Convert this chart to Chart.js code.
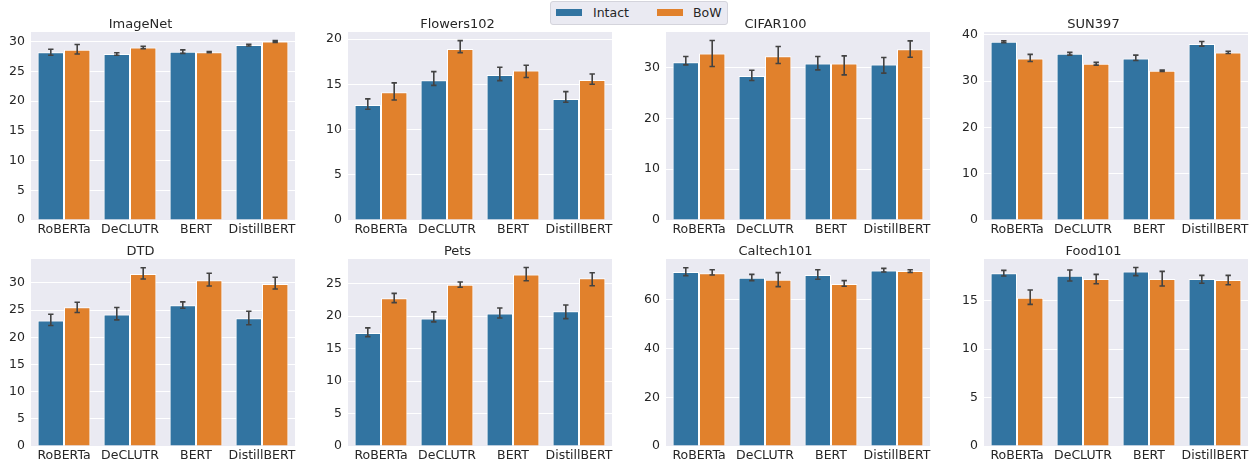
<!DOCTYPE html>
<html><head><meta charset="utf-8">
<script src="https://cdn.jsdelivr.net/npm/chart.js@4.4.0/dist/chart.umd.min.js"></script>
<style>
body{margin:0;background:#fff;width:1255px;height:463px;overflow:hidden;position:relative;font-family:"DejaVu Sans",sans-serif;}
canvas.pc{position:absolute;}
#legend{position:absolute;left:550px;top:1px;width:176px;height:22px;border:1px solid #d4d4dc;border-radius:3px;background:#eaeaf2;}
#legend .sw{position:absolute;top:7px;width:26px;height:7px;}
#legend .tx{position:absolute;top:0;line-height:22px;font-size:12.5px;color:#262626;white-space:nowrap;}
</style></head><body>
<div id="legend">
  <span class="sw" style="left:5px;background:#3274a1"></span><span class="tx" style="left:42px">Intact</span>
  <span class="sw" style="left:106px;background:#e1812c"></span><span class="tx" style="left:142px">BoW</span>
</div>
<script>
// ---------- data ----------
const categories = ["RoBERTa", "DeCLUTR", "BERT", "DistillBERT"];
const seriesNames = ["Intact", "BoW"];

const imagenetIntact = [28.2, 27.9, 28.3, 29.4];
const imagenetIntactCI = [[27.7, 28.7], [27.7, 28.1], [28.0, 28.6], [29.25, 29.55]];
const imagenetBow = [28.6, 29.0, 28.2, 30.0];
const imagenetBowCI = [[27.9, 29.5], [28.8, 29.2], [28.1, 28.3], [29.85, 30.15]];
const imagenetTicks = [0, 5, 10, 15, 20, 25, 30];

const flowersIntact = [12.73, 15.46, 16.05, 13.4];
const flowersIntactCI = [[12.25, 13.4], [14.9, 16.42], [15.42, 16.9], [13.03, 14.2]];
const flowersBow = [14.13, 18.93, 16.53, 15.5];
const flowersBowCI = [[13.28, 15.17], [18.52, 19.85], [15.76, 17.12], [15.02, 16.16]];
const flowersTicks = [0, 5, 10, 15, 20];

const cifarIntact = [31.06, 28.36, 30.79, 30.6];
const cifarIntactCI = [[30.53, 32.17], [27.45, 29.48], [29.55, 32.17], [28.9, 31.98]];
const cifarBow = [32.76, 32.24, 30.79, 33.6];
const cifarBowCI = [[30.2, 35.32], [30.79, 34.14], [28.56, 32.3], [32.04, 35.26]];
const cifarTicks = [0, 10, 20, 30];

const sunIntact = [38.49, 35.9, 34.9, 37.99];
const sunIntactCI = [[38.3, 38.7], [35.6, 36.2], [34.46, 35.6], [37.55, 38.56]];
const sunBow = [34.9, 33.74, 32.23, 36.19];
const sunBowCI = [[34.24, 35.76], [33.45, 34.05], [32.08, 32.38], [35.95, 36.45]];
const sunTicks = [0, 10, 20, 30, 40];

const dtdIntact = [23.09, 24.19, 25.9, 23.52];
const dtdIntactCI = [[22.17, 24.25], [23.21, 25.47], [25.35, 26.51], [22.3, 24.8]];
const dtdBow = [25.53, 31.64, 30.48, 29.81];
const dtdBowCI = [[24.56, 26.45], [30.73, 32.8], [29.44, 31.77], [28.89, 31.03]];
const dtdTicks = [0, 5, 10, 15, 20, 25, 30];

const petsIntact = [17.42, 19.62, 20.39, 20.75];
const petsIntactCI = [[16.85, 18.19], [19.11, 20.65], [19.72, 21.26], [19.62, 21.72]];
const petsBow = [22.75, 24.85, 26.43, 25.82];
const petsBowCI = [[22.08, 23.51], [24.44, 25.26], [25.46, 27.5], [24.69, 26.69]];
const petsTicks = [0, 5, 10, 15, 20, 25];

const caltechIntact = [71.46, 69.14, 70.2, 72.1];
const caltechIntactCI = [[69.96, 73.23], [67.9, 70.5], [68.5, 72.4], [71.46, 72.95]];
const caltechBow = [70.9, 68.32, 66.55, 71.9];
const caltechBowCI = [[70.2, 72.4], [65.45, 71.2], [65.6, 67.9], [71.3, 72.4]];
const caltechTicks = [0, 20, 40, 60];

const foodIntact = [17.82, 17.58, 18.02, 17.23];
const foodIntactCI = [[17.54, 18.13], [17.03, 18.16], [17.58, 18.43], [16.79, 17.61]];
const foodBow = [15.31, 17.23, 17.23, 17.13];
const foodBowCI = [[14.62, 16.1], [16.75, 17.71], [16.51, 18.02], [16.65, 17.61]];
const foodTicks = [0, 5, 10, 15];

const panelTitles = ["ImageNet", "Flowers102", "CIFAR100", "SUN397", "DTD", "Pets", "Caltech101", "Food101"];
const yMaxes = [31.6, 20.8, 37.0, 40.6, 34.4, 28.8, 76.8, 19.3];

// ---------- layout (plot-area rectangles) ----------
const colX = [[31, 295], [348, 612], [666, 930], [984, 1248]];
const rowY = [[32, 220], [259, 446]];

const panelData = [
  [imagenetIntact, imagenetIntactCI, imagenetBow, imagenetBowCI, imagenetTicks],
  [flowersIntact, flowersIntactCI, flowersBow, flowersBowCI, flowersTicks],
  [cifarIntact, cifarIntactCI, cifarBow, cifarBowCI, cifarTicks],
  [sunIntact, sunIntactCI, sunBow, sunBowCI, sunTicks],
  [dtdIntact, dtdIntactCI, dtdBow, dtdBowCI, dtdTicks],
  [petsIntact, petsIntactCI, petsBow, petsBowCI, petsTicks],
  [caltechIntact, caltechIntactCI, caltechBow, caltechBowCI, caltechTicks],
  [foodIntact, foodIntactCI, foodBow, foodBowCI, foodTicks]
];

const TEXT = '#262626';
const Y_W = 45, X_H = 24, TITLE_H = 20, RIGHT_PAD = 4;
Chart.defaults.font.family = "'DejaVu Sans'";

const bgPlugin = {
  id: 'bg',
  beforeDraw(chart) {
    const { ctx, chartArea: a } = chart;
    ctx.save();
    ctx.fillStyle = '#eaeaf2';
    ctx.fillRect(a.left, a.top, a.right - a.left, a.bottom - a.top);
    ctx.restore();
  }
};

const errPlugin = {
  id: 'err',
  afterDatasetsDraw(chart) {
    const { ctx } = chart;
    const ys = chart.scales.y;
    ctx.save();
    ctx.strokeStyle = '#424242';
    ctx.lineWidth = 1.6;
    ctx.lineCap = 'butt';
    chart.data.datasets.forEach((ds, di) => {
      const meta = chart.getDatasetMeta(di);
      meta.data.forEach((el, j) => {
        const [lo, hi] = ds.ci[j];
        const x = el.x;
        const y1 = ys.getPixelForValue(lo), y2 = ys.getPixelForValue(hi);
        const cap = 2.7;
        ctx.beginPath();
        ctx.moveTo(x, y1); ctx.lineTo(x, y2);
        ctx.moveTo(x - cap, y1); ctx.lineTo(x + cap, y1);
        ctx.moveTo(x - cap, y2); ctx.lineTo(x + cap, y2);
        ctx.stroke();
      });
    });
    ctx.restore();
  }
};

panelData.forEach((pd, i) => {
  const [intact, intactCI, bow, bowCI, ticks] = pd;
  const [L, R] = colX[i % 4];
  const [T, B] = rowY[Math.floor(i / 4)];
  const left = L - Y_W, top = T - TITLE_H;
  const w = R - L + Y_W + RIGHT_PAD, h = B - T + TITLE_H + X_H;
  const c = document.createElement('canvas');
  c.className = 'pc';
  c.width = w; c.height = h;
  c.style.left = left + 'px'; c.style.top = top + 'px';
  c.style.width = w + 'px'; c.style.height = h + 'px';
  document.body.appendChild(c);
  new Chart(c, {
    type: 'bar',
    data: {
      labels: categories,
      datasets: [
        { label: seriesNames[0], data: intact, ci: intactCI, backgroundColor: '#3274a1', borderColor: '#ffffff', borderWidth: 1 },
        { label: seriesNames[1], data: bow, ci: bowCI, backgroundColor: '#e1812c', borderColor: '#ffffff', borderWidth: 1 }
      ]
    },
    options: {
      responsive: false,
      animation: false,
      devicePixelRatio: 1,
      layout: { padding: { left: 0, right: RIGHT_PAD, top: 0, bottom: 0 } },
      datasets: { bar: { categoryPercentage: 0.8, barPercentage: 1.0 } },
      plugins: {
        legend: { display: false },
        tooltip: { enabled: false },
        title: {
          display: true, text: panelTitles[i], color: TEXT,
          font: { size: 13, weight: 'normal', lineHeight: 1.2 },
          padding: { top: 4.4, bottom: 0 }
        }
      },
      scales: {
        x: {
          grid: { display: false, drawTicks: false },
          border: { display: false },
          ticks: { color: TEXT, font: { size: 12.5 }, padding: 2.5, maxRotation: 0, autoSkip: false },
          afterFit(s) { s.height = X_H; s.paddingLeft = 0; s.paddingRight = 0; }
        },
        y: {
          min: 0, max: yMaxes[i],
          grid: { color: '#ffffff', lineWidth: 1, drawTicks: false },
          border: { display: false },
          ticks: { color: TEXT, font: { size: 12.5 }, padding: 6 },
          afterBuildTicks(s) { s.ticks = ticks.map(v => ({ value: v })); },
          afterFit(s) { s.width = Y_W; s.paddingTop = 0; s.paddingBottom = 0; }
        }
      }
    },
    plugins: [bgPlugin, errPlugin]
  });
});
</script>
</body></html>
